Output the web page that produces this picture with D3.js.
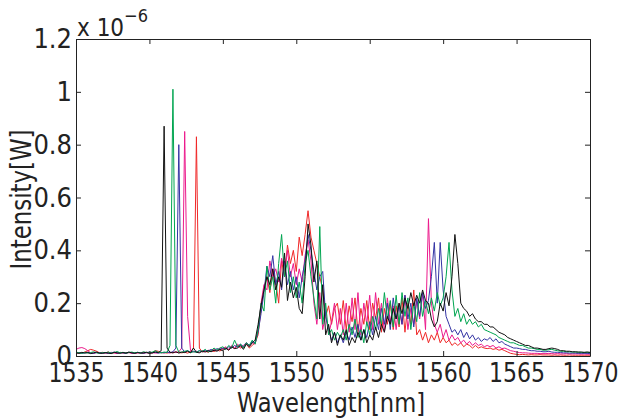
<!DOCTYPE html>
<html>
<head>
<meta charset="utf-8">
<script src="https://cdn.jsdelivr.net/npm/d3@7"></script>
<style>
  html, body { margin: 0; padding: 0; background: white; }
</style>
</head>
<body>
<script>
// sampling grid in nm, one sample every 0.2 nm from 1535 to 1570
var wavelengths = d3.range(0, 176).map(function (i) { return +(1535 + i * 0.2).toFixed(1); });

var xTicks = [1535, 1540, 1545, 1550, 1555, 1560, 1565, 1570];
var yTicks = [0, 0.2, 0.4, 0.6, 0.8, 1, 1.2];

// intensities in units of 1e-6 W, ten samples (2 nm) per row
var blackTrace = [
    .012,.010,.014,.011,.013,.009,.012,.015,.011,.010,
    .013,.011,.009,.014,.012,.010,.013,.011,.015,.012,
    .010,.013,.011,.012,.014,.010,.012,.015,.013,.020,
    .870,.030,.014,.012,.016,.011,.015,.013,.018,.012,
    .030,.014,.012,.018,.015,.020,.016,.022,.018,.025,
    .020,.030,.022,.035,.028,.030,.040,.025,.045,.035,
    .050,.060,.120,.190,.250,.300,.270,.330,.250,.300,
    .260,.390,.210,.280,.220,.260,.180,.160,.300,.500,
    .420,.280,.360,.140,.270,.080,.120,.050,.090,.040,
    .080,.060,.100,.040,.070,.050,.090,.060,.100,.050,
    .080,.060,.110,.070,.120,.090,.150,.120,.180,.140,
    .200,.160,.220,.180,.240,.190,.230,.200,.250,.210,
    .200,.140,.110,.130,.200,.170,.240,.190,.300,.460,
    .350,.200,.180,.170,.150,.160,.140,.130,.130,.120,
    .120,.110,.110,.100,.090,.085,.080,.070,.065,.060,
    .055,.050,.045,.040,.040,.035,.030,.030,.028,.025,
    .025,.028,.030,.028,.025,.020,.020,.018,.018,.016,
    .016,.015,.015,.014,.015,.014
];

var greenTrace = [
    .015,.012,.010,.014,.011,.013,.016,.012,.010,.013,
    .012,.015,.011,.013,.017,.012,.014,.011,.013,.015,
    .012,.014,.011,.016,.013,.012,.015,.020,.014,.012,
    .015,.013,.040,1.01,.040,.015,.014,.018,.020,.013,
    .016,.014,.020,.018,.025,.015,.020,.030,.022,.030,
    .035,.025,.040,.030,.060,.035,.045,.030,.050,.040,
    .060,.045,.100,.200,.170,.340,.250,.300,.200,.350,
    .460,.300,.360,.240,.300,.220,.280,.200,.350,.400,
    .300,.220,.140,.490,.120,.200,.080,.100,.060,.090,
    .070,.100,.060,.120,.080,.140,.070,.100,.050,.130,
    .080,.150,.100,.180,.120,.240,.140,.210,.110,.230,
    .120,.240,.150,.220,.100,.200,.130,.240,.150,.210,
    .160,.220,.170,.240,.190,.220,.300,.430,.250,.150,
    .180,.130,.160,.120,.140,.120,.130,.110,.120,.100,
    .095,.090,.085,.080,.070,.065,.060,.055,.050,.050,
    .045,.040,.040,.035,.030,.030,.028,.025,.025,.022,
    .022,.024,.025,.022,.020,.018,.018,.016,.016,.015,
    .015,.014,.014,.013,.014,.013
];

var blueTrace = [
    .011,.013,.010,.012,.014,.011,.010,.013,.012,.011,
    .013,.010,.012,.015,.011,.013,.012,.010,.014,.012,
    .011,.014,.012,.010,.013,.015,.012,.014,.011,.013,
    .012,.015,.013,.016,.030,.800,.030,.015,.020,.014,
    .018,.015,.020,.016,.022,.019,.025,.020,.028,.024,
    .030,.025,.035,.030,.040,.033,.045,.035,.050,.040,
    .055,.050,.090,.160,.240,.340,.300,.380,.270,.320,
    .250,.360,.270,.320,.250,.300,.220,.300,.360,.460,
    .400,.320,.250,.300,.320,.150,.100,.060,.090,.050,
    .080,.050,.090,.060,.110,.070,.120,.060,.100,.070,
    .130,.080,.150,.100,.180,.120,.200,.100,.220,.140,
    .190,.120,.230,.140,.200,.110,.220,.150,.240,.180,
    .210,.300,.430,.200,.430,.250,.150,.120,.090,.100,
    .080,.100,.070,.090,.065,.080,.060,.070,.055,.065,
    .060,.070,.055,.065,.050,.055,.045,.040,.035,.030,
    .030,.028,.025,.025,.022,.020,.020,.018,.018,.016,
    .016,.018,.015,.014,.014,.013,.012,.012,.011,.011,
    .011,.010,.010,.010,.010,.009
];

var magentaTrace = [
    .025,.030,.032,.028,.020,.012,.010,.013,.011,.012,
    .010,.012,.014,.011,.010,.013,.012,.011,.013,.010,
    .012,.011,.013,.014,.012,.010,.013,.011,.012,.014,
    .012,.014,.011,.015,.013,.016,.030,.850,.150,.020,
    .015,.018,.014,.020,.017,.022,.018,.025,.020,.030,
    .028,.035,.025,.040,.030,.045,.035,.040,.050,.038,
    .050,.045,.100,.200,.270,.250,.360,.300,.330,.280,
    .370,.320,.400,.300,.350,.270,.330,.280,.380,.440,
    .360,.200,.120,.240,.100,.160,.080,.130,.200,.100,
    .180,.080,.200,.090,.220,.100,.240,.080,.200,.120,
    .230,.100,.240,.120,.200,.090,.220,.130,.190,.100,
    .200,.120,.230,.100,.180,.120,.210,.140,.240,.100,
    .520,.200,.120,.090,.120,.070,.100,.060,.080,.060,
    .070,.050,.060,.045,.055,.040,.050,.040,.045,.035,
    .040,.035,.040,.030,.035,.028,.030,.025,.020,.018,
    .015,.013,.012,.012,.011,.010,.010,.010,.009,.009,
    .009,.010,.009,.008,.009,.008,.008,.009,.008,.008,
    .008,.008,.007,.008,.007,.007
];

var redTrace = [
    .012,.010,.011,.015,.020,.025,.022,.018,.012,.014,
    .012,.015,.011,.013,.010,.014,.012,.011,.013,.012,
    .011,.013,.012,.010,.014,.012,.011,.020,.018,.012,
    .013,.011,.014,.012,.015,.013,.012,.014,.011,.016,
    .030,.830,.030,.015,.018,.014,.020,.017,.022,.019,
    .025,.030,.022,.035,.028,.040,.030,.035,.045,.030,
    .040,.050,.080,.180,.260,.300,.240,.330,.280,.200,
    .360,.300,.420,.350,.400,.320,.450,.380,.460,.550,
    .450,.400,.350,.300,.250,.150,.190,.120,.180,.200,
    .120,.210,.100,.190,.130,.220,.090,.180,.120,.210,
    .100,.200,.140,.220,.090,.180,.120,.200,.100,.190,
    .110,.220,.090,.200,.120,.250,.080,.100,.060,.090,
    .050,.080,.060,.090,.050,.070,.050,.060,.040,.050,
    .040,.050,.035,.045,.040,.030,.040,.030,.035,.030,
    .028,.030,.025,.028,.022,.025,.020,.015,.010,.008,
    .006,.005,.006,.005,.004,.005,.004,.004,.005,.004,
    .004,.004,.003,.004,.003,.004,.003,.003,.004,.003,
    .003,.003,.003,.003,.003,.003
];

// drawn in this order, black ends up on top
var traces = [
    {values: redTrace, color: "#f02828"},
    {values: magentaTrace, color: "#ec1a8c"},
    {values: blueTrace, color: "#3434a4"},
    {values: greenTrace, color: "#00a550"},
    {values: blackTrace, color: "#111111"}
];

var FONT = "'DejaVu Sans Condensed', 'DejaVu Sans', sans-serif";
var margin = {left: 76, right: 31, top: 39, bottom: 62};
var width = 621, height = 418;

var svg = d3.select("body").append("svg")
            .attr("width", width)
            .attr("height", height);

var x = d3.scaleLinear()
          .domain([1535, 1570])
          .range([margin.left, width - margin.right]);
var y = d3.scaleLinear()
          .domain([0, 1.2])
          .range([height - margin.bottom, margin.top]);

var line = d3.line()
             .x(function (d, i) { return x(wavelengths[i]); })
             .y(function (d) { return y(d); });

svg.append("g")
   .selectAll("path")
   .data(traces)
   .join("path")
   .attr("d", function (t) { return line(t.values); })
   .attr("fill", "none")
   .attr("stroke", function (t) { return t.color; })
   .attr("stroke-width", 1);

// axes, ticks pointing inward on all four sides
var bottom = svg.append("g")
                .attr("transform", "translate(0," + y(0) + ")")
                .call(d3.axisBottom(x).tickValues(xTicks).tickFormat(d3.format("d"))
                        .tickSizeInner(-5).tickSizeOuter(0).tickPadding(8));
var left = svg.append("g")
              .attr("transform", "translate(" + x(1535) + ",0)")
              .call(d3.axisLeft(y).tickValues(yTicks).tickFormat(d3.format("~g"))
                      .tickSizeInner(-5).tickSizeOuter(0).tickPadding(4));
svg.append("g")
   .attr("transform", "translate(0," + y(1.2) + ")")
   .call(d3.axisTop(x).tickValues(xTicks).tickFormat("")
           .tickSizeInner(-5).tickSizeOuter(0));
svg.append("g")
   .attr("transform", "translate(" + x(1570) + ",0)")
   .call(d3.axisRight(y).tickValues(yTicks).tickFormat("")
           .tickSizeInner(-5).tickSizeOuter(0));

svg.selectAll(".domain, .tick line").attr("stroke", "#222").attr("stroke-width", 1);
left.attr("font-family", FONT).attr("font-size", 27);
bottom.attr("font-family", FONT).attr("font-size", 26);
svg.selectAll(".tick text").attr("fill", "#222");
// the reference face is narrow: squeeze the x labels a little
bottom.selectAll("text")
      .attr("textLength", 56)
      .attr("lengthAdjust", "spacingAndGlyphs");

// exponent marker
var expo = svg.append("text")
              .attr("x", 77)
              .attr("y", 36)
              .attr("font-family", FONT)
              .attr("font-size", 24)
              .attr("fill", "#222")
              .text("x 10");
expo.append("tspan")
    .attr("dy", -14)
    .attr("font-size", 18)
    .text("\u22126");

svg.append("text")
   .attr("x", 331)
   .attr("y", 412)
   .attr("text-anchor", "middle")
   .attr("font-family", FONT)
   .attr("font-size", 26)
   .attr("textLength", 188)
   .attr("lengthAdjust", "spacingAndGlyphs")
   .attr("fill", "#222")
   .text("Wavelength[nm]");

svg.append("text")
   .attr("transform", "translate(31," + ((margin.top + height - margin.bottom) / 2 + 2) + ") rotate(-90)")
   .attr("text-anchor", "middle")
   .attr("font-family", FONT)
   .attr("font-size", 29)
   .attr("textLength", 140)
   .attr("lengthAdjust", "spacingAndGlyphs")
   .attr("fill", "#222")
   .text("Intensity[W]");
</script>
</body>
</html>
